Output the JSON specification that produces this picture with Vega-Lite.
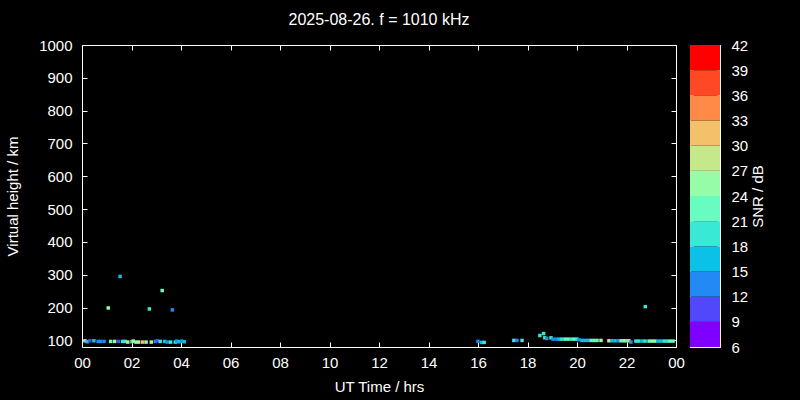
{
  "$schema": "https://vega.github.io/schema/vega-lite/v6.json",
  "background": "black",
  "padding": {"left": 5, "top": 11, "right": 40, "bottom": 8},
  "config": {
    "view": {"stroke": "white", "strokeWidth": 1},
    "font": "Liberation Sans",
    "axis": {"domain": false, "grid": false, "labelColor": "white", "titleColor": "white", "tickColor": "white", "labelFont": "Liberation Sans", "labelFontSize": 15, "titleFont": "Liberation Sans", "titleFontSize": 15, "titleFontWeight": "normal", "tickSize": -5, "labelFlush": false, "labelOverlap": false},
    "title": {"color": "white", "fontSize": 16, "fontWeight": "normal", "font": "Liberation Sans"}
  },
  "spacing": 4,
  "resolve": {"scale": {"color": "independent"}},
  "hconcat": [
    {
      "width": 594,
      "height": 302,
      "title": {"text": "2025-08-26. f = 1010 kHz", "anchor": "middle", "offset": 10},
      "data": {"values": [
        {"t": 0.12, "h": 99, "s": 31}, {"t": 0.21, "h": 96, "s": 16}, {"t": 0.32, "h": 99, "s": 10}, {"t": 0.48, "h": 99, "s": 17},
        {"t": 0.65, "h": 97, "s": 13}, {"t": 0.75, "h": 97, "s": 13}, {"t": 0.89, "h": 97, "s": 14}, {"t": 1.16, "h": 97, "s": 22},
        {"t": 1.32, "h": 97, "s": 25}, {"t": 1.47, "h": 97, "s": 11}, {"t": 1.64, "h": 97, "s": 20}, {"t": 1.75, "h": 97, "s": 19},
        {"t": 1.85, "h": 95, "s": 28}, {"t": 2.01, "h": 96, "s": 17}, {"t": 2.07, "h": 98, "s": 29}, {"t": 2.18, "h": 95, "s": 25},
        {"t": 2.29, "h": 95, "s": 26}, {"t": 2.45, "h": 95, "s": 32}, {"t": 2.59, "h": 95, "s": 25}, {"t": 2.8, "h": 95, "s": 29},
        {"t": 2.96, "h": 97, "s": 13}, {"t": 3.04, "h": 99, "s": 10}, {"t": 3.16, "h": 97, "s": 18}, {"t": 3.34, "h": 97, "s": 17},
        {"t": 3.45, "h": 95, "s": 14}, {"t": 3.58, "h": 95, "s": 19}, {"t": 3.77, "h": 95, "s": 19}, {"t": 3.83, "h": 98, "s": 13},
        {"t": 3.92, "h": 96, "s": 17}, {"t": 4.03, "h": 98, "s": 13}, {"t": 4.13, "h": 96, "s": 17},
        {"t": 1.54, "h": 295, "s": 16}, {"t": 3.24, "h": 252, "s": 22}, {"t": 1.06, "h": 199, "s": 25}, {"t": 2.72, "h": 196, "s": 19}, {"t": 3.65, "h": 193, "s": 13},
        {"t": 16.0, "h": 97, "s": 13}, {"t": 16.15, "h": 94, "s": 17}, {"t": 16.25, "h": 94, "s": 19},
        {"t": 17.45, "h": 100, "s": 18}, {"t": 17.57, "h": 100, "s": 13}, {"t": 17.78, "h": 100, "s": 19},
        {"t": 18.5, "h": 115, "s": 19}, {"t": 18.65, "h": 121, "s": 19}, {"t": 18.7, "h": 108, "s": 19}, {"t": 18.78, "h": 106, "s": 13},
        {"t": 18.95, "h": 108, "s": 19},
        {"t": 19.03, "h": 104, "s": 13}, {"t": 19.15, "h": 104, "s": 14}, {"t": 19.27, "h": 104, "s": 17}, {"t": 19.39, "h": 104, "s": 18},
        {"t": 19.52, "h": 104, "s": 22}, {"t": 19.64, "h": 104, "s": 23}, {"t": 19.76, "h": 104, "s": 19}, {"t": 19.88, "h": 104, "s": 21},
        {"t": 20.0, "h": 104, "s": 19}, {"t": 20.08, "h": 102, "s": 13}, {"t": 20.2, "h": 100, "s": 16}, {"t": 20.32, "h": 100, "s": 17},
        {"t": 20.44, "h": 100, "s": 16}, {"t": 20.57, "h": 100, "s": 22}, {"t": 20.69, "h": 100, "s": 23}, {"t": 20.81, "h": 100, "s": 22},
        {"t": 20.97, "h": 100, "s": 24}, {"t": 21.29, "h": 99, "s": 27}, {"t": 21.41, "h": 99, "s": 17}, {"t": 21.54, "h": 99, "s": 16},
        {"t": 21.66, "h": 99, "s": 13}, {"t": 21.78, "h": 99, "s": 22}, {"t": 21.9, "h": 99, "s": 24}, {"t": 22.02, "h": 99, "s": 23},
        {"t": 22.1, "h": 99, "s": 30}, {"t": 22.18, "h": 95, "s": 13}, {"t": 22.38, "h": 98, "s": 18}, {"t": 22.5, "h": 98, "s": 19},
        {"t": 22.63, "h": 98, "s": 17}, {"t": 22.75, "h": 98, "s": 19}, {"t": 22.91, "h": 98, "s": 22}, {"t": 23.03, "h": 98, "s": 24},
        {"t": 23.15, "h": 98, "s": 25}, {"t": 23.27, "h": 98, "s": 16}, {"t": 23.39, "h": 98, "s": 17}, {"t": 23.52, "h": 98, "s": 19},
        {"t": 23.64, "h": 98, "s": 18}, {"t": 23.76, "h": 98, "s": 22}, {"t": 23.88, "h": 98, "s": 23},
        {"t": 22.76, "h": 203, "s": 19}
      ]},
      "layer": [
        {
          "mark": {"type": "square", "size": 12, "opacity": 1, "filled": true},
          "encoding": {
            "x": {"field": "t", "type": "quantitative", "scale": {"domain": [0, 24], "nice": false, "zero": false},
                  "axis": {"values": [0, 2, 4, 6, 8, 10, 12, 14, 16, 18, 20, 22, 24], "labelExpr": "(datum.value % 24 < 10 ? '0' : '') + (datum.value % 24)", "title": "UT Time / hrs", "labelPadding": 13, "titlePadding": 9}},
            "y": {"field": "h", "type": "quantitative", "scale": {"domain": [80, 1000], "nice": false, "zero": false},
                  "axis": {"values": [100, 200, 300, 400, 500, 600, 700, 800, 900, 1000], "format": "d", "title": "Virtual height / km", "labelPadding": 15, "titlePadding": 18}},
            "color": {"field": "s", "type": "quantitative",
                      "scale": {"type": "threshold", "domain": [9, 12, 15, 18, 21, 24, 27, 30, 33, 36, 39],
                                "range": ["#8000ff", "#5148fc", "#238af5", "#0cc1e8", "#3ae8d6", "#68fcc1", "#97fca7", "#c5e88a", "#f3c16a", "#ff8a48", "#ff4824", "#ff0000"]},
                      "legend": null}
          }
        },
        {
          "mark": {"type": "square", "opacity": 0},
          "encoding": {
            "x": {"field": "t", "type": "quantitative", "axis": {"orient": "top", "values": [0, 2, 4, 6, 8, 10, 12, 14, 16, 18, 20, 22, 24], "labels": false, "title": null}},
            "y": {"field": "h", "type": "quantitative", "axis": {"orient": "right", "values": [100, 200, 300, 400, 500, 600, 700, 800, 900, 1000], "labels": false, "title": null}}
          }
        }
      ],
      "resolve": {"axis": {"x": "independent", "y": "independent"}}
    },
    {
      "width": 30,
      "height": 302,
      "data": {"values": [
        {"lo": 6, "hi": 9}, {"lo": 9, "hi": 12}, {"lo": 12, "hi": 15}, {"lo": 15, "hi": 18},
        {"lo": 18, "hi": 21}, {"lo": 21, "hi": 24}, {"lo": 24, "hi": 27}, {"lo": 27, "hi": 30},
        {"lo": 30, "hi": 33}, {"lo": 33, "hi": 36}, {"lo": 36, "hi": 39}, {"lo": 39, "hi": 42}
      ]},
      "layer": [
        {
          "mark": {"type": "rect"},
          "encoding": {
            "x": {"datum": 0, "type": "quantitative", "scale": {"domain": [0, 1], "nice": false}, "axis": null},
            "x2": {"datum": 1},
            "y": {"field": "lo", "type": "quantitative", "scale": {"domain": [6, 42], "nice": false, "zero": false},
                  "axis": {"orient": "right", "values": [6, 9, 12, 15, 18, 21, 24, 27, 30, 33, 36, 39, 42], "tickSize": -3, "labelPadding": 14,
                           "title": "SNR / dB", "titleAngle": 270, "titleX": 37, "titleY": 151, "titleBaseline": "middle", "titleAlign": "center"}},
            "y2": {"field": "hi"},
            "color": {"field": "lo", "type": "quantitative",
                      "scale": {"type": "threshold", "domain": [9, 12, 15, 18, 21, 24, 27, 30, 33, 36, 39],
                                "range": ["#8000ff", "#5148fc", "#238af5", "#0cc1e8", "#3ae8d6", "#68fcc1", "#97fca7", "#c5e88a", "#f3c16a", "#ff8a48", "#ff4824", "#ff0000"]},
                      "legend": null}
          }
        },
        {
          "mark": {"type": "rect", "opacity": 0},
          "encoding": {
            "x": {"datum": 0, "type": "quantitative"},
            "x2": {"datum": 1},
            "y": {"field": "lo", "type": "quantitative", "axis": {"orient": "left", "values": [6, 9, 12, 15, 18, 21, 24, 27, 30, 33, 36, 39, 42], "tickSize": -3, "labels": false, "title": null}},
            "y2": {"field": "hi"}
          }
        }
      ],
      "resolve": {"axis": {"y": "independent"}}
    }
  ]
}
